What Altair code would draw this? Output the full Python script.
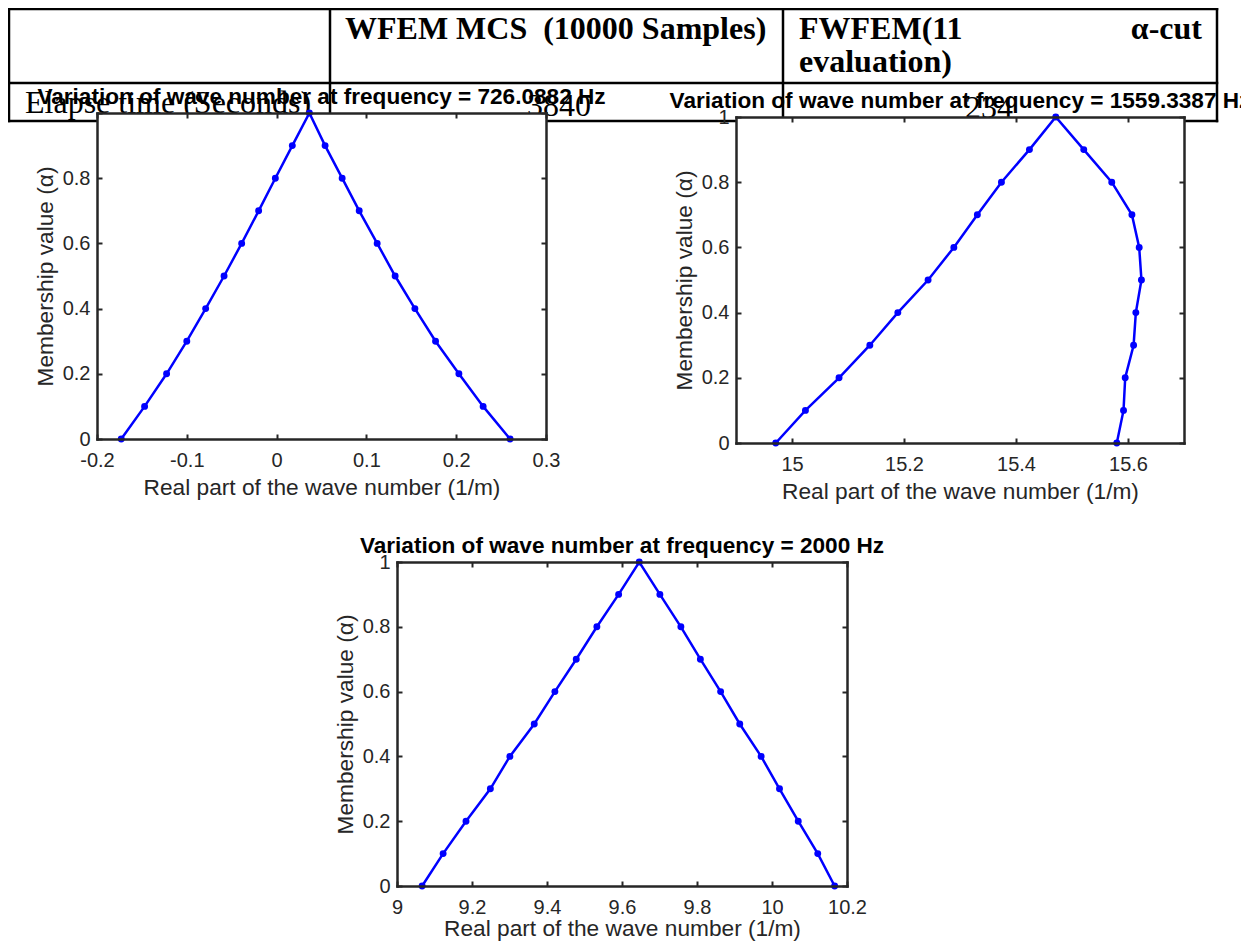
import altair as alt
import pandas as pd

# ---------------- data ----------------
alpha_levels = [0.0, 0.1, 0.2, 0.3, 0.4, 0.5, 0.6, 0.7, 0.8, 0.9, 1.0]

# 726.0882 Hz: left branch (alpha 0 -> 1), right branch (alpha 0 -> 0.9)
k726_left = [-0.173, -0.147, -0.1225, -0.100, -0.079, -0.0585, -0.0389, -0.020, -0.0014, 0.0175, 0.0365]
k726_right = [0.260, 0.230, 0.203, 0.177, 0.154, 0.132, 0.112, 0.092, 0.073, 0.054]

# 1559.3387 Hz
k1559_left = [14.971, 15.024, 15.084, 15.139, 15.189, 15.243, 15.289, 15.331, 15.374, 15.424, 15.471]
k1559_right = [15.580, 15.592, 15.595, 15.610, 15.614, 15.624, 15.620, 15.607, 15.571, 15.521]

# 2000 Hz
k2000_left = [9.067, 9.123, 9.184, 9.249, 9.301, 9.366, 9.421, 9.478, 9.533, 9.591, 9.646]
k2000_right = [10.167, 10.122, 10.070, 10.020, 9.971, 9.914, 9.863, 9.809, 9.757, 9.701]

x_ticks_726 = [-0.2, -0.1, 0.0, 0.1, 0.2, 0.3]
x_ticks_1559 = [15.0, 15.2, 15.4, 15.6]
x_ticks_2000 = [9.0, 9.2, 9.4, 9.6, 9.8, 10.0, 10.2]
y_ticks = [0.0, 0.2, 0.4, 0.6, 0.8, 1.0]

x_domain_726 = [-0.2, 0.3]
x_domain_1559 = [14.9, 15.7]
x_domain_2000 = [9.0, 10.2]
y_domain = [0.0, 1.0]

panel_titles = [
    "Variation of wave number at frequency = 726.0882 Hz",
    "Variation of wave number at frequency = 1559.3387 Hz",
    "Variation of wave number at frequency = 2000 Hz",
]
x_title = "Real part of the wave number (1/m)"
y_title = "Membership value (\u03b1)"

table_header = ["WFEM MCS \u00a0(10000 Samples)", "FWFEM(11", "\u03b1-cut", "evaluation)"]
table_row = ["Elapse time (Seconds)", "3840", "234"]

# ---------------- style / layout ----------------
W, H = 1233, 933
SANS = "Liberation Sans"
SERIF = "Liberation Serif"
AX = "#262626"
BLUE = "#0000FF"
FMT = "(datum.value < 0 ? '-' + format(-datum.value, '~g') : format(datum.value, '~g'))"
LABEL_EXPR = FMT
LABEL_EXPR_NO_TOP = "datum.value >= 1 ? '' : " + FMT

TICK_FS = 20
AXT_FS = 22.7
TITLE_FS = 22.6

dummy = pd.DataFrame({"k": [0]})


def path_df(left, right):
    xs = list(left) + list(reversed(right))
    al = list(alpha_levels) + list(reversed(alpha_levels[:-1]))
    return pd.DataFrame({"k": xs, "alpha": al, "ord": list(range(len(xs)))})


def tick_axis(orient, offset, values, domain):
    return alt.Axis(orient=orient, offset=offset, values=values, labels=False,
                    ticks=True, tickSize=5, tickWidth=2, tickColor=AX,
                    domain=domain, domainColor=AX, domainWidth=2.5, domainCap="square",
                    grid=False, title=None, zindex=1)


def panel(df, xdom, xticks, box, y_label_expr, x_title_pad):
    x0, x1, y0, y1 = box
    xs = alt.Scale(domain=xdom, range=[x0, x1], nice=False, zero=False)
    ys = alt.Scale(domain=y_domain, range=[y1, y0], nice=False, zero=False)
    main_x = alt.Axis(orient="bottom", offset=y1 - H, values=xticks, labelExpr=LABEL_EXPR,
                      ticks=False, tickSize=0, domain=True, domainColor=AX, domainWidth=2.5,
                      domainCap="square",
                      labelFont=SANS, labelFontSize=TICK_FS, labelColor=AX, labelPadding=11,
                      labelFlush=False, labelOverlap=False, grid=False,
                      title=x_title, titleFont=SANS, titleFontSize=AXT_FS, titleFontWeight="normal",
                      titleColor=AX, titlePadding=x_title_pad, zindex=1)
    main_y = alt.Axis(orient="left", offset=-x0, values=y_ticks, labelExpr=y_label_expr,
                      ticks=False, tickSize=0, domain=True, domainColor=AX, domainWidth=2.5,
                      domainCap="square",
                      labelFont=SANS, labelFontSize=TICK_FS, labelColor=AX, labelPadding=7,
                      labelFlush=False, labelOverlap=False, grid=False,
                      title=y_title, titleFont=SANS, titleFontSize=AXT_FS, titleFontWeight="normal",
                      titleColor=AX, titlePadding=5, zindex=1)
    bg = alt.Chart(dummy).mark_rect(color="white").encode(
        x=alt.XDatum(xdom[0], type="quantitative", scale=xs, axis=main_x),
        x2=alt.X2Datum(xdom[1]),
        y=alt.YDatum(y_domain[0], type="quantitative", scale=ys, axis=main_y),
        y2=alt.Y2Datum(y_domain[1]),
    )
    line = alt.Chart(df).mark_line(color=BLUE, strokeWidth=2.5).encode(
        x=alt.X("k:Q", scale=xs, axis=tick_axis("top", -y1, xticks, False)),
        y=alt.Y("alpha:Q", scale=ys, axis=tick_axis("right", x0 - W, y_ticks, False)),
        order="ord:Q",
    )
    pts = alt.Chart(df).mark_circle(color=BLUE, size=48, opacity=1).encode(
        x=alt.X("k:Q", scale=xs, axis=tick_axis("bottom", y0 - H, xticks, True)),
        y=alt.Y("alpha:Q", scale=ys, axis=tick_axis("left", -x1, y_ticks, True)),
    )
    return alt.layer(bg, line, pts).resolve_axis(x="independent", y="independent")


def text(t, x, y, font, size, weight="normal", align="left", color="black"):
    return alt.Chart(dummy).mark_text(text=t, font=font, fontSize=size, fontWeight=weight,
                                      align=align, baseline="alphabetic", color=color).encode(
        x=alt.value(x), y=alt.value(y))


def hline(xa, xb, y):
    return alt.Chart(dummy).mark_rule(color="black", strokeWidth=2.5, strokeCap="square").encode(
        x=alt.value(xa), x2=alt.value(xb), y=alt.value(y))


def vline(x, ya, yb):
    return alt.Chart(dummy).mark_rule(color="black", strokeWidth=2.5, strokeCap="square").encode(
        x=alt.value(x), y=alt.value(ya), y2=alt.value(yb))


# ---------------- table (behind the figures) ----------------
table = [
    hline(1, 1209, 1), hline(1, 1209, 75), hline(1, 1209, 113),
    vline(1, 1, 113), vline(1209, 1, 113), vline(322, 1, 113), vline(775, 1, 113),
    text(table_header[0], 337, 31, SERIF, 32, "bold"),
    text(table_header[1], 791, 31, SERIF, 32, "bold"),
    text(table_header[2], 1194, 31, SERIF, 32, "bold", align="right"),
    text(table_header[3], 791, 64, SERIF, 32, "bold"),
    text(table_row[0], 17, 105, SERIF, 32),
    text(table_row[1], 519, 108, SERIF, 32),
    text(table_row[2], 957, 110, SERIF, 32),
]

box726 = (89, 538, 105, 431)
box1559 = (728, 1176, 109, 435)
box2000 = (389, 839, 554, 878)

p1 = panel(path_df(k726_left, k726_right), x_domain_726, x_ticks_726, box726, LABEL_EXPR_NO_TOP, 6)
p2 = panel(path_df(k1559_left, k1559_right), x_domain_1559, x_ticks_1559, box1559, LABEL_EXPR, 6)
p3 = panel(path_df(k2000_left, k2000_right), x_domain_2000, x_ticks_2000, box2000, LABEL_EXPR, 0)

titles = [
    text(panel_titles[0], (box726[0] + box726[1]) / 2, box726[2] - 9.5, SANS, TITLE_FS, "bold", "center"),
    text(panel_titles[1], (box1559[0] + box1559[1]) / 2, box1559[2] - 9.5, SANS, TITLE_FS, "bold", "center"),
    text(panel_titles[2], (box2000[0] + box2000[1]) / 2, box2000[2] - 9.5, SANS, TITLE_FS, "bold", "center"),
]

chart = alt.layer(*table, p1, p2, p3, *titles).resolve_scale(
    x="independent", y="independent"
).resolve_axis(
    x="independent", y="independent"
).properties(
    width=W, height=H, padding=0, autosize=alt.AutoSizeParams(type="none"), background="white"
).configure_view(stroke=None)

chart.save("out.html", embed_options={"renderer": "svg", "actions": False})
